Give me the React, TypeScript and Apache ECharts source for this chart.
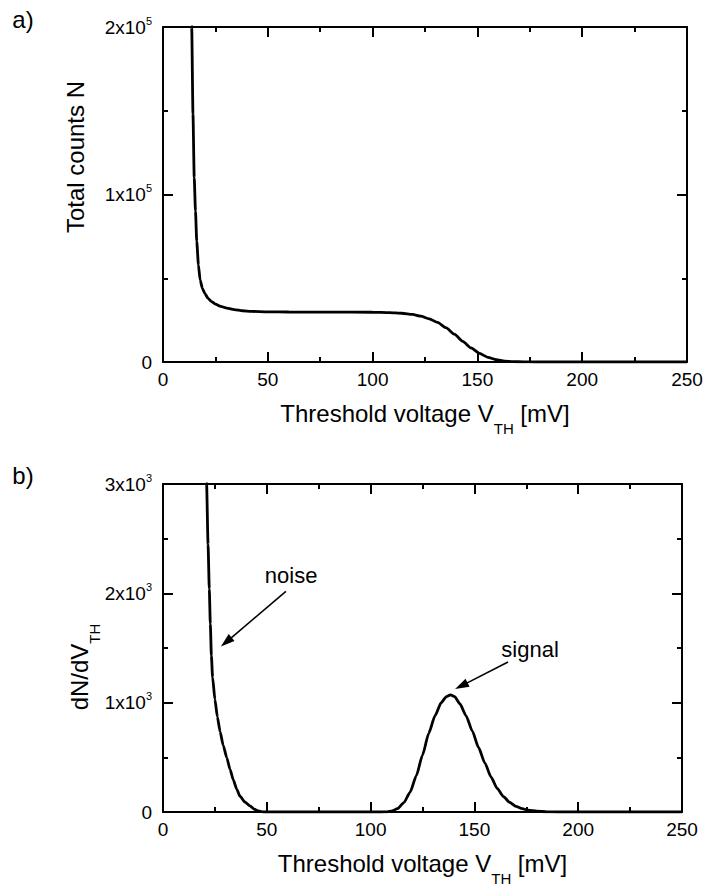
import React, { useEffect, useRef } from "react";
import * as echarts from "echarts";

const FONT = "'Liberation Sans', Arial, Helvetica, sans-serif";
const BLACK = "#000";

// ---- axis tick labels ----
const X_MIN = 0;
const X_MAX = 250;
const X_STEP = 50;
const topYTickLabels: Record<number, string> = {
  0: "0",
  100000: "{m|1x10}{s|5}",
  200000: "{m|2x10}{s|5}",
};
const bottomYTickLabels: Record<number, string> = {
  0: "0",
  1000: "{m|1x10}{s|3}",
  2000: "{m|2x10}{s|3}",
  3000: "{m|3x10}{s|3}",
};

// ---- panel a) total counts N vs threshold voltage (mV) ----
const totalCounts: [number, number][] = [
  [13.0, 262000], [13.7, 200000], [14.3, 148000], [14.9, 110000], [15.5, 90000],
  [16.1, 72000], [16.9, 58000], [17.7, 49000], [18.8, 44000], [20.0, 40800],
  [21.5, 38000], [23.0, 36200], [25.0, 34600], [27.5, 33200], [30.5, 32200],
  [34.0, 31300], [38.0, 30600], [42.0, 30200], [50.0, 29950], [60.0, 29850],
  [80.0, 29800], [100.0, 29700], [108.0, 29500], [114.0, 29100], [119.0, 28400],
  [123.0, 27400], [127.0, 25800], [131.0, 23600], [135.0, 20500], [139.0, 16600],
  [143.0, 12300], [147.0, 8400], [151.0, 5100], [155.0, 2800], [159.0, 1350],
  [163.0, 560], [167.0, 210], [172.0, 60], [178.0, 10], [185.0, 0], [250.0, 0],
];

// ---- panel b) dN/dV_TH : noise branch and signal peak ----
const noiseBranch: [number, number][] = [
  [20.0, 3800], [21.0, 3000], [21.7, 2450], [22.3, 2040], [22.8, 1720],
  [23.3, 1430], [23.9, 1230], [25.0, 1030], [26.2, 870], [27.5, 735],
  [29.0, 610], [30.7, 498], [32.3, 390], [33.9, 292], [35.5, 210],
  [37.1, 144], [39.5, 90], [41.9, 56], [44.0, 25], [46.0, 9], [48.5, 0],
];
const signalPeak: [number, number][] = [
  [105, 0], [108, 2], [110, 8], [113, 30], [116, 85], [119, 180], [122, 330],
  [125, 520], [128, 720], [131, 880], [134, 1000], [136.5, 1055], [138.5, 1072],
  [140.5, 1055], [143, 990], [146, 880], [149, 740], [152, 590], [155, 450],
  [158, 320], [161, 215], [164, 140], [167, 88], [170, 52], [173, 30],
  [176, 16], [180, 7], [185, 2], [190, 0], [250, 0],
];

// ---- annotations (data coordinates of panel b) ----
const annotations = [
  { text: "noise", textAt: [61.7, 2159], from: [59.2, 2018], to: [27.9, 1513] },
  { text: "signal", textAt: [176.8, 1487], from: [166.2, 1372], to: [140.7, 1124] },
];

const richTitle = {
  m: { fontSize: 24, fontFamily: FONT, color: BLACK, lineHeight: 24, verticalAlign: "top" },
  sub: { fontSize: 15, fontFamily: FONT, color: BLACK, lineHeight: 15, verticalAlign: "top", padding: [20, 0, 0, 0] },
};
const richTick = {
  m: { fontSize: 19, fontFamily: FONT, color: BLACK, lineHeight: 24 },
  s: { fontSize: 11, fontFamily: FONT, color: BLACK, lineHeight: 12, verticalAlign: "top" },
};

function makeXAxis(gridIndex: number, position: "bottom" | "top", main: boolean) {
  const ax: any = {
    type: "value",
    gridIndex,
    position,
    min: X_MIN,
    max: X_MAX,
    interval: X_STEP,
    axisLine: { show: true, onZero: false, lineStyle: { color: BLACK, width: 2 } },
    axisTick: { show: true, inside: true, length: 10, lineStyle: { color: BLACK, width: 2 } },
    minorTick: { show: true, splitNumber: 2, length: 5, lineStyle: { color: BLACK, width: 2 } },
    splitLine: { show: false },
    minorSplitLine: { show: false },
    axisLabel: { show: main, color: BLACK, fontSize: 19, fontFamily: FONT, margin: 8 },
  };
  if (main) {
    ax.name = "{m|Threshold voltage V}{sub|TH}{m| [mV]}";
    ax.nameLocation = "middle";
    ax.nameGap = 39;
    ax.nameTextStyle = { rich: richTitle };
  }
  return ax;
}

function makeYAxis(gridIndex: number, position: "left" | "right", max: number, interval: number, labels: Record<number, string> | null) {
  return {
    type: "value",
    gridIndex,
    position,
    min: 0,
    max,
    interval,
    axisLine: { show: true, onZero: false, lineStyle: { color: BLACK, width: 2 } },
    axisTick: { show: true, inside: true, length: 10, lineStyle: { color: BLACK, width: 2 } },
    minorTick: { show: true, splitNumber: 2, length: 5, lineStyle: { color: BLACK, width: 2 } },
    splitLine: { show: false },
    minorSplitLine: { show: false },
    axisLabel: labels
      ? {
          show: true,
          margin: 11,
          color: BLACK,
          fontSize: 19,
          fontFamily: FONT,
          formatter: (v: number) => labels[v] ?? "",
          rich: richTick,
        }
      : { show: false },
  };
}

export default function App() {
  const ref = useRef<HTMLDivElement>(null);

  useEffect(() => {
    if (!ref.current) return;
    const chart = echarts.init(ref.current, undefined, { renderer: "svg" });
    const lineStyle = { color: BLACK, width: 2.8 };
    chart.setOption({
      animation: false,
      backgroundColor: "#fff",
      grid: [
        { left: 163, top: 27, width: 524, height: 335 },
        { left: 163, top: 484, width: 519, height: 339 },
      ],
      xAxis: [
        makeXAxis(0, "bottom", true),
        makeXAxis(0, "top", false),
        makeXAxis(1, "bottom", true),
        makeXAxis(1, "top", false),
      ],
      yAxis: [
        makeYAxis(0, "left", 200000, 100000, topYTickLabels),
        makeYAxis(0, "right", 200000, 100000, null),
        makeYAxis(1, "left", 3000, 1000, bottomYTickLabels),
        makeYAxis(1, "right", 3000, 1000, null),
      ],
      series: [
        {
          type: "line",
          xAxisIndex: 0,
          yAxisIndex: 0,
          data: totalCounts,
          symbol: "none",
          smooth: 0.2,
          smoothMonotone: "x",
          clip: true,
          silent: true,
          lineStyle,
        },
        {
          type: "line",
          xAxisIndex: 2,
          yAxisIndex: 2,
          data: [...noiseBranch, ...signalPeak],
          symbol: "none",
          smooth: 0.2,
          smoothMonotone: "x",
          clip: true,
          silent: true,
          lineStyle,
        },
      ],
    });

    const graphics: any[] = [
      { type: "text", x: 23, y: 19, style: { text: "a)", fontSize: 24, fontFamily: FONT, fill: BLACK, align: "center", verticalAlign: "middle", textAlign: "center", textVerticalAlign: "middle" } },
      { type: "text", x: 23, y: 475, style: { text: "b)", fontSize: 24, fontFamily: FONT, fill: BLACK, align: "center", verticalAlign: "middle", textAlign: "center", textVerticalAlign: "middle" } },
      {
        type: "text", x: 75, y: 157, rotation: Math.PI / 2,
        style: { text: "Total counts N", fontSize: 24, fontFamily: FONT, fill: BLACK, align: "center", verticalAlign: "middle", textAlign: "center", textVerticalAlign: "middle" },
      },
      {
        type: "text", x: 79, y: 667, rotation: Math.PI / 2,
        style: {
          text: "{m|dN/dV}{sub|TH}",
          rich: richTitle,
          align: "center", verticalAlign: "middle", textAlign: "center", textVerticalAlign: "middle",
        },
      },
    ];

    annotations.forEach((a) => {
      const p0 = chart.convertToPixel({ seriesIndex: 1 }, a.from) as number[];
      const p1 = chart.convertToPixel({ seriesIndex: 1 }, a.to) as number[];
      const pt = chart.convertToPixel({ seriesIndex: 1 }, a.textAt) as number[];
      const dx = p1[0] - p0[0];
      const dy = p1[1] - p0[1];
      const len = Math.hypot(dx, dy);
      const ux = dx / len;
      const uy = dy / len;
      const L = 14;
      const W = 4.5;
      const bx = p1[0] - ux * L;
      const by = p1[1] - uy * L;
      graphics.push({
        type: "line",
        shape: { x1: p0[0], y1: p0[1], x2: bx + ux * 2, y2: by + uy * 2 },
        style: { stroke: BLACK, lineWidth: 1.6 },
      });
      graphics.push({
        type: "polygon",
        shape: { points: [[p1[0], p1[1]], [bx - uy * W, by + ux * W], [bx + uy * W, by - ux * W]] },
        style: { fill: BLACK },
      });
      graphics.push({
        type: "text",
        x: pt[0],
        y: pt[1],
        style: { text: a.text, fontSize: 22, fontFamily: FONT, fill: BLACK, align: "center", verticalAlign: "middle", textAlign: "center", textVerticalAlign: "middle" },
      });
    });

    chart.setOption({ graphic: graphics });

    return () => chart.dispose();
  }, []);

  return <div ref={ref} style={{ position: "absolute", left: 0, top: 0, width: 707, height: 887 }} />;
}
